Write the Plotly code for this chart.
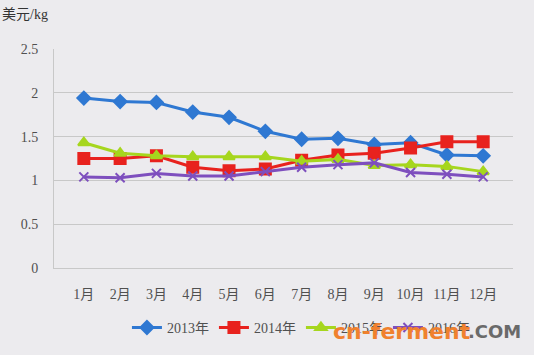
import plotly.graph_objects as go

months = ["1月", "2月", "3月", "4月", "5月", "6月", "7月", "8月", "9月", "10月", "11月", "12月"]
y2013 = [1.94, 1.90, 1.89, 1.78, 1.72, 1.56, 1.47, 1.48, 1.41, 1.43, 1.29, 1.28]
y2014 = [1.25, 1.25, 1.28, 1.15, 1.11, 1.13, 1.23, 1.29, 1.31, 1.37, 1.44, 1.44]
y2015 = [1.43, 1.31, 1.28, 1.27, 1.27, 1.27, 1.22, 1.24, 1.17, 1.18, 1.16, 1.10]
y2016 = [1.04, 1.03, 1.08, 1.05, 1.05, 1.10, 1.15, 1.18, 1.20, 1.09, 1.07, 1.04]
series_names = ["2013年", "2014年", "2015年", "2016年"]
yticks = [0, 0.5, 1, 1.5, 2, 2.5]
ytick_text = ["0", "0.5", "1", "1.5", "2", "2.5"]

font_fam = "'Times New Roman', 'Liberation Serif', 'Noto Sans CJK SC', serif"
bg = "#ECEBEE"

styles = [
    dict(color="#2F78D2", symbol="diamond", size=10),
    dict(color="#E8221E", symbol="square", size=11),
    dict(color="#A6D61E", symbol="triangle-up", size=10),
    dict(color="#7E4FBE", symbol="x-thin", size=9),
]

fig = go.Figure()
for name, ys, st in zip(series_names, [y2013, y2014, y2015, y2016], styles):
    fig.add_trace(go.Scatter(
        x=months, y=ys, name=name, mode="lines+markers",
        line=dict(color=st["color"], width=3),
        marker=dict(symbol=st["symbol"], size=st["size"], color=st["color"],
                    line=dict(color=st["color"], width=2)),
    ))

fig.update_layout(
    width=534, height=355,
    paper_bgcolor=bg, plot_bgcolor=bg,
    margin=dict(l=54, r=21, t=49, b=86),
    font=dict(family=font_fam, size=14, color="#505050"),
    showlegend=True,
    legend=dict(orientation="h", x=0.538, xanchor="center", y=-0.195, yanchor="top",
                font=dict(size=14, color="#505050"), bgcolor="rgba(0,0,0,0)",
                itemwidth=30, traceorder="normal"),
    xaxis=dict(type="category", showgrid=False, showline=True, linecolor="#C8C8C8",
               linewidth=1, ticks="", tickfont=dict(size=14), ticklabelstandoff=13),
    yaxis=dict(range=[0, 2.5], tickvals=yticks, ticktext=ytick_text, showgrid=True,
               gridcolor="#C8C8C8", gridwidth=1, showline=True, linecolor="#C8C8C8",
               zeroline=False, ticks="", ticklabelstandoff=12, tickfont=dict(size=14)),
)

fig.add_annotation(text="美元/kg", x=0, y=1, xref="paper", yref="paper", xshift=-54, yshift=44,
                   xanchor="left", yanchor="top", showarrow=False,
                   font=dict(size=14, color="#333333", family=font_fam))

# watermark
fig.add_annotation(text="<b>cn-ferment</b>", xref="paper", yref="paper",
                   x=0.758, y=-0.29, xanchor="center", yanchor="middle", showarrow=False,
                   font=dict(size=22, color="#F0812E", family="DejaVu Sans"))
fig.add_annotation(text="<b>.COM</b>", xref="paper", yref="paper",
                   x=0.96, y=-0.29, xanchor="center", yanchor="middle", showarrow=False,
                   font=dict(size=18, color="#6A6A6A", family="DejaVu Sans"))

fig.write_html("out.html", config={"displayModeBar": False},
               post_script="document.body.style.margin='0';document.body.style.padding='0';")
